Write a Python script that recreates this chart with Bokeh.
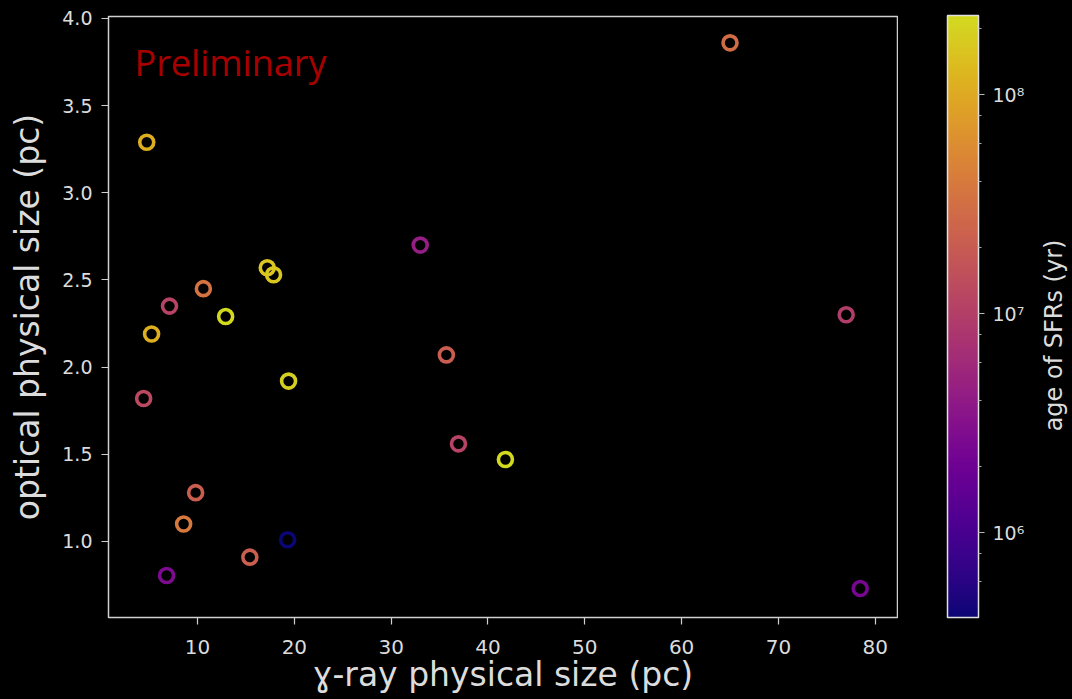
import math
from bokeh.plotting import figure
from bokeh.layouts import row
from bokeh.models import (ColumnDataSource, LogColorMapper, ColorBar, LogTicker,
                          FixedTicker, PrintfTickFormatter, CustomJSTickFormatter, Label)
from bokeh.palettes import Plasma256
from bokeh.embed import file_html
from bokeh.resources import INLINE

# gamma-ray size, optical size and age of each star-forming region
gamma_size_pc = [65.0, 4.75, 33.0, 17.2, 17.85, 7.1, 10.6, 12.9, 5.25, 77.0, 35.7,
                 19.4, 4.43, 36.95, 41.8, 9.8, 8.56, 19.3, 15.4, 6.8, 78.45]
optical_size_pc = [3.86, 3.29, 2.70, 2.57, 2.53, 2.35, 2.45, 2.29, 2.19, 2.30, 2.07,
                   1.92, 1.82, 1.56, 1.47, 1.28, 1.10, 1.01, 0.91, 0.805, 0.73]
age_yr = [3.0e7, 1.07e8, 4.5e6, 1.65e8, 1.65e8, 1.1e7, 3.4e7, 2.3e8, 1.07e8, 9.7e6, 2.1e7,
          1.9e8, 1.3e7, 1.1e7, 2.3e8, 2.1e7, 3.9e7, 4.1e5, 2.2e7, 2.7e6, 2.4e6]

x_ticks = [10, 20, 30, 40, 50, 60, 70, 80]
y_ticks = [1.0, 1.5, 2.0, 2.5, 3.0, 3.5, 4.0]

FG = "#dcdcdc"
LABEL_FONT = "33px"


def dim(hex_color, k=0.88):
    r, g, b = (int(hex_color[i:i + 2], 16) for i in (1, 3, 5))
    return "#%02x%02x%02x" % (int(r * k), int(g * k), int(b * k))


palette = [dim(c) for c in Plasma256]

source = ColumnDataSource(dict(x=gamma_size_pc, y=optical_size_pc, age=age_yr))
mapper = LogColorMapper(palette=palette, low=min(age_yr), high=max(age_yr))

# ---- scatter panel ----
p = figure(width=898, height=699, output_backend="svg", toolbar_location=None,
           x_range=(0.8, 82.3), y_range=(0.564, 4.011),
           min_border_left=108, min_border_right=1, min_border_top=16, min_border_bottom=82)
p.background_fill_color = "black"
p.border_fill_color = "black"
p.outline_line_color = "#d0d0d0"
p.outline_line_width = 1.5
p.grid.visible = False

for ax in (p.xaxis, p.yaxis):
    ax.axis_line_color = None
    ax.major_tick_line_color = "#d0d0d0"
    ax.major_tick_line_width = 1.2
    ax.major_tick_in = 0
    ax.major_tick_out = 7
    ax.minor_tick_line_color = None
    ax.major_label_text_color = FG
    ax.major_label_text_font = "DejaVu Sans"
    ax.axis_label_text_color = FG
    ax.axis_label_text_font = "DejaVu Sans"
    ax.axis_label_text_font_size = LABEL_FONT
    ax.axis_label_text_font_style = "normal"

p.xaxis.ticker = FixedTicker(ticks=x_ticks)
p.yaxis.ticker = FixedTicker(ticks=y_ticks)
p.yaxis.formatter = PrintfTickFormatter(format="%.1f")
p.xaxis.major_label_text_font_size = "20px"
p.yaxis.major_label_text_font_size = "19px"
p.xaxis.axis_label = "ɣ-ray physical size (pc)"
p.yaxis.axis_label = "optical physical size (pc)"
p.xaxis.major_label_standoff = 15
p.yaxis.major_label_standoff = 9
p.xaxis.axis_label_standoff = -2
p.yaxis.axis_label_standoff = 12

p.scatter("x", "y", source=source, marker="circle", size=14, fill_color=None,
          line_width=3.6, line_color={"field": "age", "transform": mapper})

p.add_layout(Label(x=26, y=555, x_units="screen", y_units="screen", text="Preliminary",
                   text_color="#a80000", text_font="Open Sans", text_font_size="36px",
                   text_baseline="alphabetic"))

# ---- colour-bar panel (its frame is aligned with the scatter frame by the row) ----
side = figure(width=174, height=699, output_backend="svg", toolbar_location=None,
              x_range=(0, 1), y_range=(0, 1), x_axis_location=None, y_axis_location=None,
              min_border=0)
side.background_fill_color = "black"
side.border_fill_color = "black"
side.outline_line_color = None
side.grid.visible = False

sup_formatter = CustomJSTickFormatter(code="""
const sup = {"0":"\u2070","1":"\u00b9","2":"\u00b2","3":"\u00b3","4":"\u2074",
             "5":"\u2075","6":"\u2076","7":"\u2077","8":"\u2078","9":"\u2079","-":"\u207b"};
const e = Math.round(Math.log10(tick));
return "10" + String(e).split("").map(c => sup[c]).join("");
""")

cbar = ColorBar(color_mapper=mapper, ticker=LogTicker(), formatter=sup_formatter,
                width=31, height=602, location=(49, 0), margin=0, padding=0,
                background_fill_color=None, border_line_color=None,
                bar_line_color="#e0e0e0", bar_line_width=1.5,
                major_tick_in=0, major_tick_out=6, major_tick_line_color="#bbbbbb",
                minor_tick_in=0, minor_tick_out=3, minor_tick_line_color="#aaaaaa",
                major_label_text_color=FG, major_label_text_font="DejaVu Sans",
                major_label_text_font_size="19px", label_standoff=8)
side.add_layout(cbar, "center")

side.add_layout(Label(x=155, y=282, x_units="screen", y_units="screen",
                      text="age of SFRs (yr)", angle=math.pi / 2,
                      text_align="center", text_baseline="middle",
                      text_color=FG, text_font="DejaVu Sans", text_font_size="24px"))

layout = row(p, side, spacing=0)
layout.styles = {"background-color": "black"}

open("out.html", "w").write(file_html(layout, INLINE))
